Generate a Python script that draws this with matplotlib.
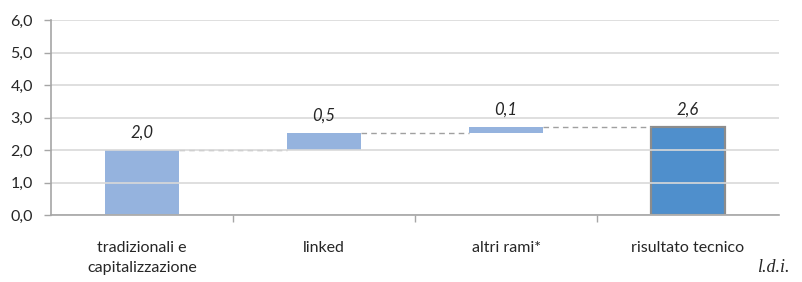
import matplotlib
matplotlib.use("Agg")
import matplotlib.pyplot as plt
import numpy as np

categories = ["tradizionali e\ncapitalizzazione", "linked", "altri rami*", "risultato tecnico"]
steps = [2.00, 0.52, 0.18]          # contributions
value_labels = ["2,0", "0,5", "0,1", "2,6"]
yticks = [0.0, 1.0, 2.0, 3.0, 4.0, 5.0, 6.0]

light = "#95b3de"
dark = "#4f8fcc"
grid_c = "#d9d9d9"
axis_c = "#a6a6a6"
text_c = "#262626"

plt.rcParams['font.family'] = ['Lato', 'DejaVu Sans']

fig = plt.figure(figsize=(8.02, 2.82), dpi=100)
ax = fig.add_axes([51/802, 1-215/282, (779-51)/802, (215-20)/282])

x = np.arange(len(categories))
w = 0.405
cum = np.cumsum([0] + steps)
bottoms = list(cum[:-1]) + [0]
heights = list(steps) + [cum[-1]]

for i in range(len(categories)):
    if i < len(categories) - 1:
        ax.bar(x[i], heights[i], w, bottom=bottoms[i], color=light, zorder=1, linewidth=0)
    else:
        ax.bar(x[i], heights[i], w, bottom=bottoms[i], color=dark, zorder=1,
               edgecolor="#8c8c8c", linewidth=1.6)
    top = bottoms[i] + heights[i]
    ax.text(x[i], top + 0.55, value_labels[i], ha="center", va="center",
            fontsize=12, style="italic", color=text_c)

# connectors
for i in range(len(categories) - 1):
    lvl = cum[i + 1]
    ax.plot([x[i] + w/2, x[i+1] - w/2], [lvl, lvl], color="#a0a0a0",
            linestyle=(0, (4, 3)), linewidth=1.0, zorder=2)

ax.set_xlim(-0.5, len(categories) - 0.5)
ax.set_ylim(0, 6)
ax.set_yticks(yticks)
ax.set_yticklabels([f"{v:.1f}".replace(".", ",") for v in yticks], fontsize=11.5, color=text_c)
ax.yaxis.grid(True, color=grid_c, linewidth=1.2, zorder=3)
ax.set_axisbelow(False)
for gl in ax.get_ygridlines():
    gl.set_zorder(3)

ax.set_xticks(x)
ax.set_xticklabels(categories, fontsize=11.5, color=text_c, linespacing=1.55)
ax.tick_params(axis="x", length=0, pad=19)
ax.set_xticks(np.arange(len(categories) - 1) + 0.5, minor=True)
ax.tick_params(axis="x", which="minor", length=5, color=axis_c, width=1)
ax.tick_params(axis="y", length=5, color=axis_c, width=1, pad=8)

for s in ["top", "right"]:
    ax.spines[s].set_visible(False)
for s in ["left", "bottom"]:
    ax.spines[s].set_color(axis_c)
    ax.spines[s].set_linewidth(1.2)
    ax.spines[s].set_zorder(4)

fig.text(790/802, 1-268/282, "l.d.i.", family="Liberation Serif", style="italic",
         fontsize=13, ha="right", va="center", color=text_c)

fig.savefig("out.png", dpi=100)
